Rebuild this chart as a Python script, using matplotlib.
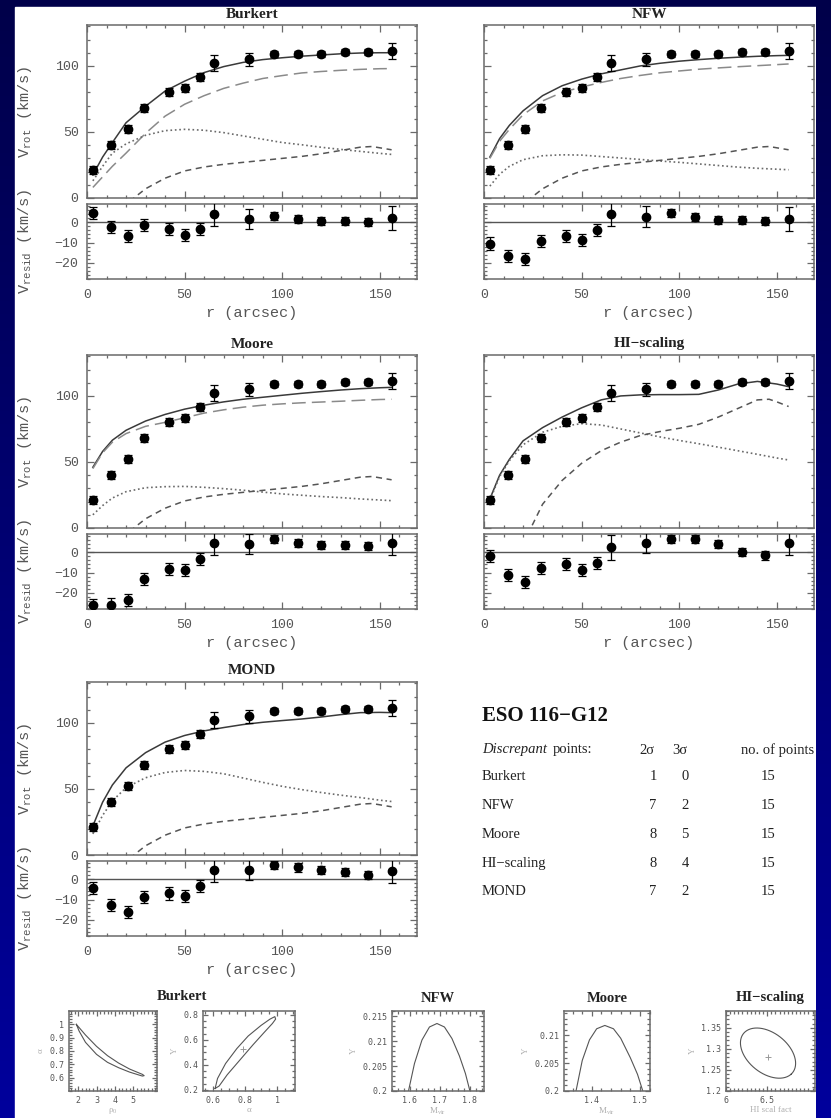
import numpy as np
import matplotlib
matplotlib.use("Agg")
import matplotlib.pyplot as plt
from matplotlib.ticker import MultipleLocator, FixedLocator

W, H = 831, 1118

# observed rotation curve (same in every panel)
r_obs = [3.1, 12.4, 21.0, 29.0, 42.0, 50.0, 58.0, 65.0, 83.0, 96.0, 108.0, 120.0, 132.0, 144.0, 156.0]
v_obs = [21.5, 40.0, 52.0, 68.0, 80.0, 83.0, 91.5, 102.0, 105.0, 109.0, 109.0, 109.0, 110.5, 110.5, 111.5]
v_err = [3, 3, 3, 3, 3, 3, 3, 6, 5, 2, 2, 2, 2, 2, 6]

# residuals per model
res_burkert = [4.5, -2.2, -6.8, -1.3, -3.5, -6.3, -3.2, 4.2, 1.7, 3.3, 1.7, 0.7, 0.7, 0.3, 2.0]
res_nfw = [-10.5, -16.7, -18.0, -9.2, -6.8, -8.7, -4.0, 4.2, 2.8, 4.5, 2.5, 1.3, 1.3, 0.5, 1.7]
res_moore = [-26.1, -25.8, -23.4, -13.2, -8.4, -8.7, -3.5, 4.5, 4.2, 6.6, 4.5, 3.7, 3.7, 2.9, 4.5]
res_hi = [-1.9, -11.3, -14.8, -7.6, -5.8, -8.9, -5.2, 2.4, 4.4, 6.6, 6.6, 4.2, 0.2, -1.6, 4.5]
res_mond = [-4.2, -12.8, -16.3, -8.8, -7.0, -8.3, -3.3, 4.7, 4.7, 7.0, 5.8, 4.5, 3.7, 2.0, 4.0]

# model curves, sampled on one radius grid
r_curve = [3, 8, 13, 20, 30, 40, 50, 60, 70, 80, 90, 100, 110, 120, 130, 140, 150, 156]

burkert_tot = [17.5, 31, 42, 57, 69.5, 81, 88.5, 95, 99.5, 102.7, 104.8, 106.2, 107.4, 108.3, 109.2, 109.8, 110, 110]
burkert_halo = [8, 16, 24, 34, 49, 62, 71, 77.5, 83, 87, 90.5, 92.7, 94.7, 95.8, 96.7, 97.4, 97.9, 98]
burkert_disk = [13, 24, 34, 41, 47.5, 51, 52, 51.3, 49.5, 47, 44.5, 42, 40.3, 38.4, 36.8, 35.3, 33.8, 33]

nfw_tot = [31, 45, 55, 66, 77.5, 85, 90, 94, 97, 100, 102, 103.6, 104.8, 105.8, 106.6, 107.3, 107.8, 108]
nfw_halo = [30, 43, 52, 63, 73.5, 80, 84, 87.5, 90.5, 92.8, 94.8, 96.2, 97.5, 98.5, 99.4, 100.2, 101, 101.5]
nfw_disk = [9, 18, 24, 29, 32, 32.7, 32.5, 31.4, 30.3, 29.2, 28, 27, 25.8, 24.6, 23.4, 22.5, 21.8, 21.4]

moore_tot = [46, 58, 66.5, 74, 81, 86, 90, 93, 95.5, 97.5, 99, 100.5, 102, 103.3, 104.5, 105.5, 106.2, 106.5]
moore_halo = [45, 57, 65, 71.5, 77, 80, 83.5, 87, 89.5, 91.5, 93, 94, 94.8, 95.4, 96, 96.7, 97.3, 97.5]
moore_disk = [10, 17, 22.7, 27.5, 30.5, 31.3, 31.5, 30.8, 29.8, 28.6, 27.2, 25.8, 24.8, 23.8, 23, 22, 21.2, 20.7]

hi_tot = [22, 40, 52, 66, 76, 84, 91, 97, 100, 100.8, 101, 101, 101.2, 104.5, 109, 111, 109, 107]
hi_disk = [21, 39, 51, 63, 72.5, 77, 79, 78, 75, 72, 69, 66.3, 63.8, 61.2, 58.5, 55.8, 53, 51.5]
r_hi_gas = [22, 24, 30, 40, 50, 60, 70, 80, 90, 100, 110, 120, 130, 140, 146, 150, 156]
hi_gas = [-5, 0, 18, 36, 49, 58.5, 65, 70, 73, 75.5, 78.5, 84, 90.5, 97, 97.5, 95.5, 92]

mond_tot = [22, 40, 53, 66, 77.5, 85.5, 90.5, 94, 96.5, 98.8, 100.5, 101.8, 103, 104.5, 106.3, 107.8, 108, 107.8]
mond_disk = [16, 30, 41, 51, 58.5, 62.5, 64, 63.3, 61.5, 58.3, 55, 52, 49.5, 47.3, 45.3, 43.5, 41.5, 40.5]

r_gas = [22, 24, 30, 40, 50, 60, 70, 80, 90, 100, 110, 120, 130, 140, 146, 150, 156]
v_gas = [-3, 0, 7, 15, 20.5, 23.5, 25.5, 27, 28.5, 30, 31.5, 33.5, 36, 38.5, 39, 38, 36.5]

# table
tab_models = ["Burkert", "NFW", "Moore", "HI\u2212scaling", "MOND"]
tab_2sig = [1, 7, 8, 8, 7]
tab_3sig = [0, 2, 5, 4, 2]
tab_npts = [15, 15, 15, 15, 15]

# small confidence panels
bk1_x = [1.9, 2.4, 3.0, 3.6, 4.2, 4.8, 5.5, 5.6, 5.5, 4.8, 4.2, 3.6, 3.0, 2.4, 2.05, 1.9]
bk1_y = [1.0, 0.92, 0.835, 0.765, 0.71, 0.665, 0.625, 0.615, 0.612, 0.642, 0.675, 0.715, 0.775, 0.865, 0.95, 1.0]
bk2_x = [0.615, 0.63, 0.68, 0.75, 0.82, 0.90, 0.955, 0.985, 0.99, 0.97, 0.92, 0.85, 0.77, 0.69, 0.64, 0.615]
bk2_y = [0.21, 0.29, 0.41, 0.53, 0.63, 0.715, 0.765, 0.785, 0.765, 0.73, 0.66, 0.56, 0.44, 0.32, 0.23, 0.21]
bk2_best = (0.79, 0.53)
nfw_m = [1.595, 1.615, 1.64, 1.665, 1.69, 1.715, 1.74, 1.765, 1.785, 1.80]
nfw_u = [0.200, 0.2055, 0.2102, 0.2128, 0.2135, 0.2128, 0.2105, 0.207, 0.2035, 0.200]
moore_m = [1.367, 1.38, 1.395, 1.41, 1.427, 1.445, 1.46, 1.48, 1.495, 1.506]
moore_u = [0.200, 0.2055, 0.2092, 0.2112, 0.2118, 0.2112, 0.2095, 0.206, 0.203, 0.200]
hi_best = (6.51, 1.28)

GRAY = "#6a6a6a"
TXT = "#555555"
MONO = "Liberation Mono"
serif = "Liberation Serif"
plt.rcParams["mathtext.default"] = "regular"

fig = plt.figure(figsize=(W / 100, H / 100), dpi=100)

# background gradient
grad = np.linspace(0, 1, 256).reshape(-1, 1)
cmap = matplotlib.colors.LinearSegmentedColormap.from_list("bg", ["#00004a", "#00009c"])
bg = fig.add_axes([0, 0, 1, 1], zorder=-10)
bg.imshow(grad, aspect="auto", cmap=cmap, extent=[0, 1, 0, 1])
bg.axis("off")
fig.add_artist(plt.Rectangle((15 / W, 0), (816 - 15) / W, 1 - 7 / H, transform=fig.transFigure,
                             color="white", zorder=-5))


def box(x0, y0, x1, y1, z=1):
    return fig.add_axes([x0 / W, 1 - y1 / H, (x1 - x0) / W, (y1 - y0) / H], zorder=z)


def style(ax, size=9.5, fam=MONO):
    for s in ax.spines.values():
        s.set_color(GRAY)
        s.set_linewidth(1.1)
    ax.tick_params(which="both", direction="in", top=True, right=True, color=GRAY,
                   labelcolor=TXT, labelsize=size, width=0.9)
    ax.tick_params(which="major", length=5)
    ax.tick_params(which="minor", length=2.5)
    for t in ax.get_xticklabels() + ax.get_yticklabels():
        t.set_family(fam)


def rc_panel(x0, y0, name, tot, halo, disk, gr, gv, res, left):
    top = box(x0, y0, x0 + 330, y0 + 173)
    bot = box(x0, y0 + 179, x0 + 330, y0 + 254)
    top.errorbar(r_obs, v_obs, yerr=v_err, fmt="o", color="black", ms=6, elinewidth=0.9,
                 capsize=3, capthick=0.9, zorder=5)
    top.plot(r_curve, tot, "-", color="#3a3a3a", lw=1.1)
    if halo is not None:
        top.plot(r_curve, halo, color="#8a8a8a", lw=1.1, dashes=(9, 4))
    top.plot(r_curve, disk, ":", color="#6a6a6a", lw=1.2)
    top.plot(gr, gv, color="#555555", lw=1.1, dashes=(4, 3))
    top.set_xlim(0, 169)
    top.set_ylim(0, 131)
    top.xaxis.set_major_locator(MultipleLocator(50))
    top.xaxis.set_minor_locator(MultipleLocator(10))
    top.yaxis.set_major_locator(MultipleLocator(50))
    top.yaxis.set_minor_locator(MultipleLocator(10))
    top.set_xticklabels([])
    style(top)
    top.tick_params(axis="y", pad=6)

    bot.errorbar(r_obs, res, yerr=v_err, fmt="o", color="black", ms=6, elinewidth=0.9,
                 capsize=3, capthick=0.9, zorder=5)
    bot.axhline(0, color="#555555", lw=1.0)
    bot.set_xlim(0, 169)
    bot.set_ylim(-28, 9)
    bot.xaxis.set_major_locator(MultipleLocator(50))
    bot.xaxis.set_minor_locator(MultipleLocator(10))
    bot.yaxis.set_major_locator(MultipleLocator(10))
    bot.yaxis.set_minor_locator(MultipleLocator(2))
    style(bot)
    bot.tick_params(axis="y", pad=6)
    bot.tick_params(axis="x", pad=7)
    bot.set_xlabel("r (arcsec)", family=MONO, color=TXT, fontsize=11, labelpad=4)
    if left:
        top.set_ylabel("V$_{rot}$ (km/s)", family=MONO, color=TXT, fontsize=11)
        bot.set_ylabel("V$_{resid}$ (km/s)", family=MONO, color=TXT, fontsize=11)
        bot.yaxis.set_label_coords(-0.16, 0.5)
        top.yaxis.set_label_coords(-0.16, 0.5)
    else:
        top.set_yticklabels([])
        bot.set_yticklabels([])
    fig.text((x0 + 165) / W, 1 - 14 / H - (y0 - 25) / H, name, ha="center", va="center",
             family=serif, weight="bold", fontsize=11, color="#222222")


rc_panel(87, 25, "Burkert", burkert_tot, burkert_halo, burkert_disk, r_gas, v_gas, res_burkert, True)
rc_panel(484, 25, "NFW", nfw_tot, nfw_halo, nfw_disk, r_gas, v_gas, res_nfw, False)
rc_panel(87, 355, "Moore", moore_tot, moore_halo, moore_disk, r_gas, v_gas, res_moore, True)
rc_panel(484, 355, "HI\u2212scaling", hi_tot, None, hi_disk, r_hi_gas, hi_gas, res_hi, False)
rc_panel(87, 682, "MOND", mond_tot, None, mond_disk, r_gas, v_gas, res_mond, True)

# table
TS = 10.5
fig.text(482 / W, 1 - 716 / H, "ESO 116\u2212G12", family=serif, weight="bold", fontsize=15,
         va="center", color="#111111")
fig.text(482 / W, 1 - 750 / H, "Discrepant", family=serif, style="italic", fontsize=TS,
         va="center", color="#222222")
fig.text(553 / W, 1 - 750 / H, "points:", family=serif, fontsize=TS, va="center", color="#222222")
fig.text(647 / W, 1 - 750 / H, "2\u03c3", family=serif, fontsize=TS, va="center", ha="center", color="#222222")
fig.text(680 / W, 1 - 750 / H, "3\u03c3", family=serif, fontsize=TS, va="center", ha="center", color="#222222")
fig.text(741 / W, 1 - 750 / H, "no. of points", family=serif, fontsize=TS, va="center", color="#222222")
for i, m in enumerate(tab_models):
    yy = 1 - (777 + 28.7 * i) / H
    fig.text(482 / W, yy, m, family=serif, fontsize=TS, va="center", color="#222222")
    fig.text(653 / W, yy, str(tab_2sig[i]), family=serif, fontsize=TS, va="center", ha="center", color="#222222")
    fig.text(685 / W, yy, str(tab_3sig[i]), family=serif, fontsize=TS, va="center", ha="center", color="#222222")
    fig.text(768 / W, yy, str(tab_npts[i]), family=serif, fontsize=TS, va="center", ha="center", color="#222222")


def small(x0, x1, xl, yl, xlab, ylab):
    ax = box(x0, 1011, x1, 1091)
    ax.set_xlim(*xl)
    ax.set_ylim(*yl)
    style(ax, size=6, fam="DejaVu Sans Mono")
    ax.tick_params(which="major", length=3.5)
    ax.tick_params(which="minor", length=2)
    ax.set_xlabel(xlab, fontsize=6.5, color="#b0b0b0", labelpad=1, family=serif)
    ax.set_ylabel(ylab, fontsize=6.5, color="#b0b0b0", labelpad=3, family=serif)
    return ax


a1 = small(69, 157, (1.5, 6.3), (0.5, 1.1), "\u03c1$_0$", "\u03b1")
a1.plot(bk1_x, bk1_y, color="#555555", lw=0.8)
a1.xaxis.set_major_locator(FixedLocator([2, 3, 4, 5]))
a1.xaxis.set_minor_locator(MultipleLocator(0.2))
a1.yaxis.set_major_locator(FixedLocator([0.6, 0.7, 0.8, 0.9, 1.0]))
a1.yaxis.set_minor_locator(MultipleLocator(0.02))
a1.set_yticklabels(["0.6", "0.7", "0.8", "0.9", "1"])

a2 = small(203, 295, (0.54, 1.11), (0.19, 0.83), "\u03b1", "\u03a5")
a2.plot(bk2_x, bk2_y, color="#555555", lw=0.8)
a2.plot(*bk2_best, "+", color="#999999", ms=5, mew=0.7)
a2.xaxis.set_major_locator(FixedLocator([0.6, 0.8, 1.0]))
a2.xaxis.set_minor_locator(MultipleLocator(0.05))
a2.set_xticklabels(["0.6", "0.8", "1"])
a2.yaxis.set_major_locator(FixedLocator([0.2, 0.4, 0.6, 0.8]))
a2.yaxis.set_minor_locator(MultipleLocator(0.05))
fig.text(182 / W, 1 - 996 / H, "Burkert", family=serif, weight="bold", fontsize=10.5, ha="center",
         va="center", color="#222222")

a3 = small(392, 484, (1.54, 1.847), (0.2, 0.216), "M$_{vir}$", "\u03a5")
a3.plot(nfw_m, nfw_u, color="#555555", lw=0.8)
a3.xaxis.set_major_locator(FixedLocator([1.6, 1.7, 1.8]))
a3.xaxis.set_minor_locator(MultipleLocator(0.02))
a3.yaxis.set_major_locator(FixedLocator([0.2, 0.205, 0.21, 0.215]))
a3.yaxis.set_minor_locator(MultipleLocator(0.001))
a3.set_yticklabels(["0.2", "0.205", "0.21", "0.215"])
fig.text(438 / W, 1 - 998 / H, "NFW", family=serif, weight="bold", fontsize=10.5, ha="center",
         va="center", color="#222222")

a4 = small(564, 650, (1.342, 1.521), (0.2, 0.2144), "M$_{vir}$", "\u03a5")
a4.plot(moore_m, moore_u, color="#555555", lw=0.8)
a4.xaxis.set_major_locator(FixedLocator([1.4, 1.5]))
a4.xaxis.set_minor_locator(MultipleLocator(0.02))
a4.yaxis.set_major_locator(FixedLocator([0.2, 0.205, 0.21]))
a4.yaxis.set_minor_locator(MultipleLocator(0.001))
a4.set_yticklabels(["0.2", "0.205", "0.21"])
fig.text(607 / W, 1 - 998 / H, "Moore", family=serif, weight="bold", fontsize=10.5, ha="center",
         va="center", color="#222222")

a5 = small(726, 815, (6.0, 7.08), (1.2, 1.39), "HI scal fact", "\u03a5")
t = np.linspace(0, 2 * np.pi, 200)
ex = 0.37 * np.cos(t) * np.cos(-0.8) - 0.24 * np.sin(t) * np.sin(-0.8)
ey = 0.37 * np.cos(t) * np.sin(-0.8) + 0.24 * np.sin(t) * np.cos(-0.8)
a5.plot(hi_best[0] + ex * 1.08, hi_best[1] + 0.01 + ey * 0.19, color="#555555", lw=0.8)
a5.plot(*hi_best, "+", color="#999999", ms=5, mew=0.7)
a5.xaxis.set_major_locator(FixedLocator([6.0, 6.5]))
a5.xaxis.set_minor_locator(MultipleLocator(0.05))
a5.set_xticklabels(["6", "6.5"])
a5.yaxis.set_major_locator(FixedLocator([1.2, 1.25, 1.3, 1.35]))
a5.yaxis.set_minor_locator(MultipleLocator(0.01))
a5.set_yticklabels(["1.2", "1.25", "1.3", "1.35"])
fig.text(770 / W, 1 - 998 / H, "HI\u2212scaling", family=serif, weight="bold", fontsize=10.5, ha="center",
         va="center", color="#222222")

# right border drawn over the content so it clips text as in the original
rb = fig.add_axes([816 / W, 0, 1 - 816 / W, 1], zorder=20)
rb.imshow(grad, aspect="auto", cmap=cmap, extent=[0, 1, 0, 1])
rb.axis("off")
fig.savefig("out.png", dpi=100)
